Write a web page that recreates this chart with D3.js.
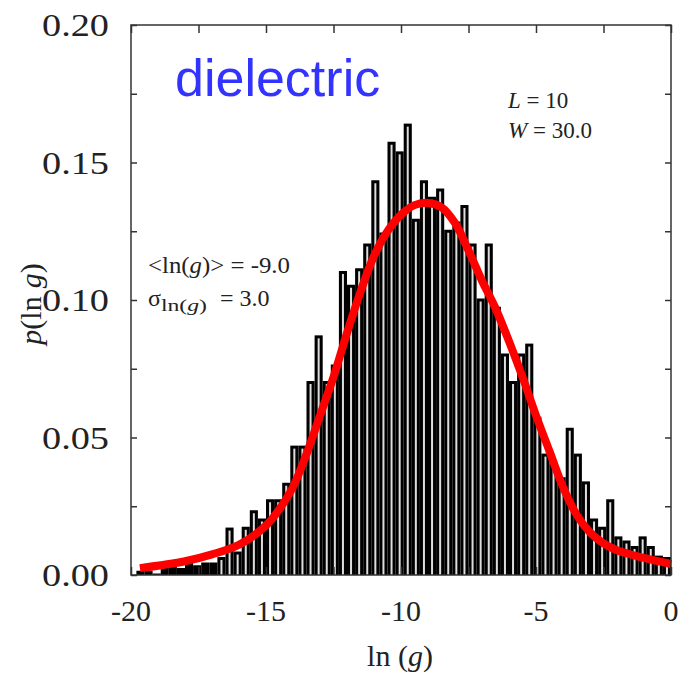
<!DOCTYPE html>
<html>
<head>
<meta charset="utf-8">
<script src="https://cdnjs.cloudflare.com/ajax/libs/d3/7.8.5/d3.min.js"></script>
<style>
    body { margin: 0; background: #fff; }
    text { font-family: "Liberation Serif", "Times New Roman", serif; fill: #222; }
</style>
</head>
<body>
<svg id="chart" width="681" height="681"></svg>
<script>
// histogram of ln(g), bins of 0.3 starting at -19.8
var binStart = -19.8;
var binWidth = 0.3;
var counts = [
    0.001, 0.001, 0.000, 0.002, 0.003, 0.002, 0.004, 0.003, 0.004, 0.004,
    0.006, 0.0167, 0.008, 0.017, 0.023, 0.020, 0.027, 0.027, 0.033, 0.0465,
    0.0465, 0.070, 0.0866, 0.070, 0.076, 0.110, 0.105, 0.111, 0.120, 0.143,
    0.124, 0.157, 0.1535, 0.1636, 0.129, 0.143, 0.137, 0.140, 0.125, 0.128,
    0.134, 0.120, 0.100, 0.120, 0.097, 0.080, 0.070, 0.080, 0.0836, 0.057,
    0.0436, 0.040, 0.035, 0.053, 0.0436, 0.0335, 0.020, 0.017, 0.027, 0.0135,
    0.012, 0.010, 0.0135, 0.010, 0.0065, 0.006
];

// fitted curve (red)
var fitX = [-19.67, -18, -17, -16, -15, -14.5, -14, -13.5, -13, -12.5,
    -12, -11.5, -11, -10.5, -10, -9.5, -9, -8.5, -8, -7.5,
    -7, -6.5, -6, -5.5, -5, -4.5, -4, -3.5, -3, -2.5,
    -2, -1, 0];
var fitY = [0.0025, 0.005, 0.0075, 0.011, 0.018, 0.024, 0.032, 0.044, 0.058, 0.072,
    0.088, 0.103, 0.116, 0.125, 0.131, 0.1345, 0.1353, 0.1337, 0.128, 0.118,
    0.107, 0.097, 0.085, 0.072, 0.058, 0.045, 0.032, 0.022, 0.0155, 0.0115,
    0.009, 0.0062, 0.004];

var xTicks = [-20, -15, -10, -5, 0];
var yTicks = [0.00, 0.05, 0.10, 0.15, 0.20];

var svg = d3.select("#chart"),
    margin = {top: 25, right: 10, bottom: 106, left: 131},
    width = 681 - margin.left - margin.right,
    height = 681 - margin.top - margin.bottom;

var x = d3.scaleLinear().domain([-20, 0]).range([0, width]);
var y = d3.scaleLinear().domain([0, 0.2]).range([height, 0]);

var g = svg.append("g")
    .attr("transform", "translate(" + margin.left + "," + margin.top + ")");

g.append("clipPath").attr("id", "plotclip")
    .append("rect").attr("width", width).attr("height", height);

var bins = counts.map(function(c, i) {
    return {x0: binStart + i * binWidth, x1: binStart + (i + 1) * binWidth, v: c};
});

var bars = g.append("g").attr("clip-path", "url(#plotclip)");

bars.selectAll("rect.bar")
    .data(bins)
    .enter().append("rect")
    .attr("class", "bar")
    .attr("x", function(d) { return x(d.x0); })
    .attr("width", function(d) { return x(d.x1) - x(d.x0); })
    .attr("y", function(d) { return y(d.v) - 1.5; })
    .attr("height", function(d) { return height - y(d.v) + 1.5; })
    .attr("fill", "#000");

// thin light gap in the middle of each box
bars.selectAll("rect.gap")
    .data(bins.filter(function(d) { return d.v > 0.004; }))
    .enter().append("rect")
    .attr("class", "gap")
    .attr("x", function(d) { return (x(d.x0) + x(d.x1)) / 2 - 1; })
    .attr("width", 2)
    .attr("y", function(d) { return y(d.v) + 1.5; })
    .attr("height", function(d) { return Math.max(0, height - y(d.v) - 1.5); })
    .attr("fill", "#ddd");

// red curve
var line = d3.line()
    .x(function(d) { return x(d[0]); })
    .y(function(d) { return y(d[1]); })
    .curve(d3.curveCatmullRom);

g.append("path")
    .datum(d3.zip(fitX, fitY))
    .attr("d", line)
    .attr("fill", "none")
    .attr("stroke", "#ff0000")
    .attr("stroke-width", 8)
    .attr("stroke-linecap", "butt");

// frame + inward ticks on all sides
g.append("rect")
    .attr("width", width).attr("height", height)
    .attr("fill", "none").attr("stroke", "#333").attr("stroke-width", 1.5);

var xMinor = d3.range(-20, 0.01, 2.5);
var yMinor = d3.range(0, 0.2001, 0.025);

function styleTicks(a) {
    a.select(".domain").remove();
    a.selectAll("line").attr("stroke", "#333").attr("stroke-width", 1.5);
}

g.append("g").attr("transform", "translate(0," + height + ")")
    .call(d3.axisBottom(x).tickValues(xMinor).tickSize(-8).tickFormat(""))
    .call(styleTicks);
g.append("g")
    .call(d3.axisTop(x).tickValues(xMinor).tickSize(-8).tickFormat(""))
    .call(styleTicks);
g.append("g")
    .call(d3.axisLeft(y).tickValues(yMinor).tickSize(-6).tickFormat(""))
    .call(styleTicks);
g.append("g").attr("transform", "translate(" + width + ",0)")
    .call(d3.axisRight(y).tickValues(yMinor).tickSize(-6).tickFormat(""))
    .call(styleTicks);

// tick labels
g.selectAll("text.xl")
    .data(xTicks)
    .enter().append("text")
    .attr("class", "xl")
    .attr("x", function(d) { return x(d); })
    .attr("y", height + 46)
    .attr("text-anchor", "middle")
    .style("font-size", "30px")
    .text(function(d) { return d; });

g.selectAll("text.yl")
    .data(yTicks)
    .enter().append("text")
    .attr("class", "yl")
    .attr("x", -89)
    .attr("y", function(d) { return y(d) + 11; })
    .attr("textLength", 67)
    .attr("lengthAdjust", "spacingAndGlyphs")
    .style("font-size", "31px")
    .text(function(d) { return d.toFixed(2); });

// axis titles
var xt = svg.append("text")
    .attr("x", 400).attr("y", 666)
    .attr("text-anchor", "middle")
    .style("font-size", "30px");
xt.append("tspan").text("ln (");
xt.append("tspan").style("font-style", "italic").text("g");
xt.append("tspan").text(")");

var yt = svg.append("text")
    .attr("transform", "translate(41,304) rotate(-90)")
    .attr("text-anchor", "middle")
    .style("font-size", "30px");
yt.append("tspan").style("font-style", "italic").text("p");
yt.append("tspan").text("(ln");
yt.append("tspan").attr("dx", 8).style("font-style", "italic").text("g");
yt.append("tspan").text(")");

// annotations
svg.append("text")
    .attr("x", 175).attr("y", 96)
    .style("font-family", "'Liberation Sans', Arial, sans-serif")
    .style("font-size", "52px")
    .style("fill", "#3333ff")
    .text("dielectric");

var t1 = svg.append("text").attr("x", 508).attr("y", 108).style("font-size", "23px");
t1.append("tspan").style("font-style", "italic").text("L");
t1.append("tspan").text(" = 10");
var t2 = svg.append("text").attr("x", 508).attr("y", 138).style("font-size", "23px");
t2.append("tspan").style("font-style", "italic").text("W");
t2.append("tspan").text(" = 30.0");

var t3 = svg.append("text").attr("x", 148).attr("y", 273).style("font-size", "24px")
    .attr("textLength", 142).attr("lengthAdjust", "spacingAndGlyphs");
t3.append("tspan").text("<ln(");
t3.append("tspan").style("font-style", "italic").text("g");
t3.append("tspan").text(")> = -9.0");

var t4 = svg.append("text").attr("x", 148).attr("y", 306).style("font-size", "24px");
t4.append("tspan").text("σ");
var sub = t4.append("tspan").attr("dy", 5).style("font-size", "16px")
    .attr("textLength", 46).attr("lengthAdjust", "spacingAndGlyphs");
sub.append("tspan").text("ln(");
sub.append("tspan").style("font-style", "italic").text("g");
sub.append("tspan").text(")");
t4.append("tspan").attr("x", 220).attr("dy", -5).text("= 3.0");
</script>
</body>
</html>
